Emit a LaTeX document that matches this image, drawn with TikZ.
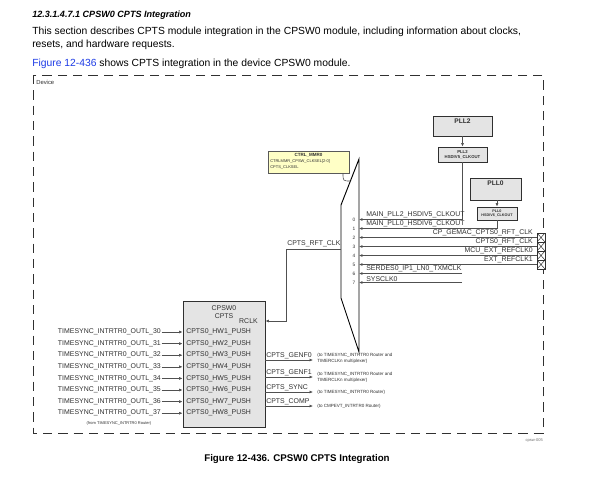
\documentclass[tikz,border=0pt]{standalone}
\usepackage{fontspec}
\setmainfont{Liberation Sans}
\usetikzlibrary{arrows.meta,fit}
\definecolor{ink}{HTML}{303030}
\definecolor{wirec}{HTML}{505050}
\definecolor{boxgray}{HTML}{E4E4E4}
\definecolor{linkblue}{HTML}{1E3CE6}
\definecolor{mmryellow}{HTML}{FFFFC6}
\begin{document}
\begin{tikzpicture}[x=0.75pt,y=-0.75pt,
  body/.style={anchor=base west, inner sep=0pt, text=black, font=\fontsize{7.75}{9}\selectfont},
  lbl/.style={font=\fontsize{5.2}{6}\selectfont, text=ink, inner sep=0pt},
  tiny/.style={font=\fontsize{3.4}{4.3}\selectfont, text=ink, inner sep=0pt},
  tinyb/.style={font=\fontsize{3.2}{3.8}\selectfont\bfseries, text=ink, inner sep=0pt, align=center},
  num/.style={font=\fontsize{3.6}{4}\selectfont, text=ink, inner sep=0pt},
  wire/.style={draw=wirec, line width=0.45pt},
  arr/.style={wire, -{Latex[length=2.6pt,width=2.2pt]}},
  graybox/.style={draw=ink, fill=boxgray, line width=0.6pt, inner sep=0pt},
  mmrbox/.style={draw=ink!80, fill=mmryellow, line width=0.5pt, inner sep=0pt},
  xbox/.style={draw=ink, fill=white, line width=0.45pt, minimum width=6pt, minimum height=6.75pt, inner sep=0pt,
    path picture={\draw[line width=0.35pt, ink] (path picture bounding box.north west) -- (path picture bounding box.south east)
      (path picture bounding box.south west) -- (path picture bounding box.north east);}},
  muxst/.style={draw=black, line width=0.7pt}
]
\useasboundingbox (0,0) rectangle (591,480);
\fill[white] (0,0) rectangle (591,480);

% ---------- text above ----------
\node[body, font=\fontsize{6.8}{9}\selectfont\bfseries\itshape] (head) at (32,17) {12.3.1.4.7.1 CPSW0 CPTS Integration};
\node[body] (p1) at (32,34) {This section describes CPTS module integration in the CPSW0 module, including information about clocks,};
\node[body] (p2) at (32,47) {resets, and hardware requests.};
\node[body] (p3) at (32,66) {\textcolor{linkblue}{Figure 12-436} shows CPTS integration in the device CPSW0 module.};

% ---------- device frame ----------
\draw[draw=ink, line width=0.6pt, dash pattern=on 7pt off 4.5pt] (33,75) rectangle (543,433);
\node[lbl, font=\fontsize{4.4}{5}\selectfont, anchor=west] (dev) at (36,82) {Device};
\node[tiny, font=\fontsize{3}{3.5}\selectfont, anchor=east, text=ink!70] (ref) at (543,441) {cpsw-005};

% ---------- caption ----------
\node[anchor=base, inner sep=0pt, font=\fontsize{7.3}{9}\selectfont\bfseries] (cap) at (297,461) {Figure 12-436. CPSW0 CPTS Integration};

% ---------- PLLs ----------
\node[graybox, fit={(433,116)(492,136)}] (pll2) {};
\node[inner sep=0pt, font=\fontsize{5}{6}\selectfont\bfseries, text=ink] (pll2t) at (462.5,121) {PLL2};
\node[graybox, fit={(438,147)(487,162)}] (pll2d) {};
\node[tinyb] (pll2dt) at (pll2d.center) {PLL2\\HSDIV5\_CLKOUT};
\draw[arr] (pll2.south) -- (pll2d.north);

\node[graybox, fit={(470,178)(521,200)}] (pll0) {};
\node[inner sep=0pt, font=\fontsize{5}{6}\selectfont\bfseries, text=ink] (pll0t) at (495.5,183) {PLL0};
\node[graybox, fit={(477,207)(517,220)}] (pll0d) {};
\node[tinyb, font=\fontsize{2.8}{3.3}\selectfont\bfseries] (pll0dt) at (pll0d.center) {PLL0\\HSDIV6\_CLKOUT};
\draw[arr] (pll0.south -| pll0d.north) -- (pll0d.north);

% ---------- CTRL_MMR0 ----------
\node[mmrbox, fit={(268,151)(349,173)}] (mmr) {};
\node[tinyb, font=\fontsize{3.4}{4}\selectfont\bfseries] (mmrt) at (308.5,155.5) {CTRL\_MMR0};
\node[tiny, anchor=north west, align=left, font=\fontsize{3}{4.4}\selectfont] (mmrb) at (270,159.5) {CTRLMMR\_CPSW\_CLKSEL[2-0]\\CPTS\_CLKSEL};

% ---------- mux ----------
\coordinate (mA) at (359,159);
\coordinate (mB) at (359,352);
\coordinate (mC) at (341,298);
\coordinate (mD) at (341,205);
\draw[muxst] (mA) -- (mB) -- (mC) -- (mD) -- cycle;
\coordinate (msel) at (350.4,181);
\draw[wire] (mmr.south -| 343,0) .. controls (343,181) .. (msel);

\foreach \k in {0,...,7}{
  \pgfmathsetmacro\yy{219.5+9*\k}
  \coordinate (min\k) at (359,\yy);
  \node[num] (n\k) at (354,\yy+0.8) {\k};
}
% input 0, 1 from PLLs
\draw[arr] (pll2d.south) |- (min0);
\node[lbl, anchor=south west] (l0) at (366,218.5) {MAIN\_PLL2\_HSDIV5\_CLKOUT};
\draw[arr] (pll0d.south) |- (min1);
\node[lbl, anchor=south west] (l1) at (366,227.5) {MAIN\_PLL0\_HSDIV6\_CLKOUT};
% inputs 2-5 from pins
\foreach \k/\t in {2/CP\_GEMAC\_CPTS0\_RFT\_CLK, 3/CPTS0\_RFT\_CLK, 4/MCU\_EXT\_REFCLK0, 5/EXT\_REFCLK1}{
  \pgfmathsetmacro\yy{219.5+9*\k}
  \node[xbox] (x\k) at (541,\yy) {};
  \draw[arr] (x\k.west) -- (min\k);
  \node[lbl, anchor=south east] (l\k) at (533,\yy-1) {\t};
}
% inputs 6, 7
\coordinate (s6) at (462,273.5);
\coordinate (s7) at (462,282.5);
\draw[arr] (s6) -- (min6);
\draw[arr] (s7) -- (min7);
\node[lbl, anchor=south west] (l6) at (366,272.5) {SERDES0\_IP1\_LN0\_TXMCLK};
\node[lbl, anchor=south west] (l7) at (366,281.5) {SYSCLK0};

% ---------- CPSW0 CPTS ----------
\node[graybox, fit={(183,301)(265,427)}] (cpsw) {};
\node[lbl, align=center, font=\fontsize{5.2}{5.6}\selectfont] (cpswt) at (224,312) {CPSW0\\CPTS};
\node[lbl, anchor=east] (rclk) at (258,321) {RCLK};

\coordinate (rft) at (341,249);
\coordinate (rftc) at (286,249);
\draw[arr] (rft) -- (rftc) |- (cpsw.east |- rclk);
\node[lbl, anchor=south west] (rftl) at (287,247.5) {CPTS\_RFT\_CLK};

\foreach \i in {0,...,7}{
  \pgfmathsetmacro\yy{332+11.6*\i}
  \pgfmathtruncatemacro\n{30+\i}
  \pgfmathtruncatemacro\h{1+\i}
  \node[lbl, anchor=east] (in\i) at (161,\yy) {TIMESYNC\_INTRTR0\_OUTL\_\n};
  \draw[arr, shorten <=0.5pt] (in\i.east) -- (in\i.east -| cpsw.west);
  \node[lbl, anchor=west] (hw\i) at (186,\yy) {CPTS0\_HW\h\_PUSH};
}
\node[tiny, font=\fontsize{3}{3.5}\selectfont] (from) at (119,423) {(from TIMESYNC\_INTRTR0 Router)};

% outputs
\foreach \j/\yy/\t in {0/360/CPTS\_GENF0, 1/377/CPTS\_GENF1, 2/392/CPTS\_SYNC, 3/406/CPTS\_COMP}{
  \coordinate (o\j) at (313,\yy);
  \draw[arr] (cpsw.east |- o\j) -- (o\j);
  \node[lbl, anchor=south west] (ol\j) at (266,\yy-1) {\t};
}
\node[tiny, anchor=west, align=left] (d0) at (317,358) {(to TIMESYNC\_INTRTR0 Router and\\TIMERCLKn multiplexer)};
\node[tiny, anchor=west, align=left] (d1) at (317,377) {(to TIMESYNC\_INTRTR0 Router and\\TIMERCLKn multiplexer)};
\node[tiny, anchor=west] (d2) at (317,392) {(to TIMESYNC\_INTRTR0 Router)};
\node[tiny, anchor=west] (d3) at (317,406) {(to CMPEVT\_INTRTR0 Router)};
\end{tikzpicture}
\end{document}
